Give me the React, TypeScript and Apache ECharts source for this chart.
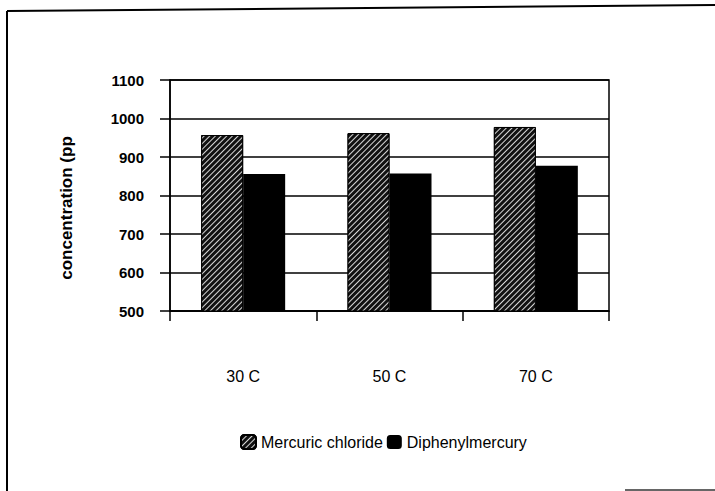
import React, { useEffect, useRef } from "react";
import * as echarts from "echarts";

const categories = ["30 C", "50 C", "70 C"];
const mercuricChloride = [957, 962, 978];
const diphenylmercury = [856, 857, 877];
const yTicks = { min: 500, max: 1100, interval: 100 };
const yAxisName = "concentration (pp";

export default function App() {
  const ref = useRef<HTMLDivElement>(null);
  useEffect(() => {
    const chart = echarts.init(ref.current!, undefined, { renderer: "svg" });
    const font = "'Liberation Sans', Arial, sans-serif";
    chart.setOption({
      animation: false,
      backgroundColor: "#fff",
      grid: {
        left: 170,
        top: 80,
        right: 106,
        bottom: 180,
        show: true,
        borderColor: "#000",
        borderWidth: 1.5,
      },
      legend: {
        left: 235,
        top: 429,
        itemWidth: 15,
        itemHeight: 14,
        itemGap: 4,
        textStyle: { fontFamily: font, fontSize: 16, color: "#000" },
        data: ["Mercuric chloride", "Diphenylmercury"],
      },
      xAxis: {
        type: "category",
        data: categories,
        axisLine: { lineStyle: { color: "#000", width: 1.5 } },
        axisTick: { show: true, length: 10, lineStyle: { color: "#000", width: 1.5 } },
        axisLabel: { margin: 57, fontFamily: font, fontSize: 16, color: "#000" },
        splitLine: { show: false },
      },
      yAxis: {
        type: "value",
        min: yTicks.min,
        max: yTicks.max,
        interval: yTicks.interval,
        axisLine: { show: true, lineStyle: { color: "#000", width: 1.5 } },
        axisTick: { show: true, length: 10, lineStyle: { color: "#000", width: 1.5 } },
        axisLabel: {
          margin: 26,
          fontFamily: font,
          fontSize: 15,
          fontWeight: "bold",
          color: "#000",
          formatter: (v: number) => String(v),
        },
        splitLine: { lineStyle: { color: "#000", width: 1.5 } },
      },
      graphic: [
        {
          type: "text",
          x: 66,
          y: 208,
          rotation: Math.PI / 2,
          style: {
            text: yAxisName,
            fontFamily: font,
            fontSize: 17,
            fontWeight: "bold",
            fill: "#000",
            align: "center",
            verticalAlign: "middle",
          },
        },
        { type: "line", shape: { x1: 7, y1: 11, x2: 715, y2: 5 }, style: { stroke: "#000", lineWidth: 2 } },
        { type: "line", shape: { x1: 7, y1: 11, x2: 7, y2: 491 }, style: { stroke: "#000", lineWidth: 2 } },
        { type: "line", shape: { x1: 625, y1: 490, x2: 715, y2: 490 }, style: { stroke: "#333", lineWidth: 1.5 } },
      ],
      series: [
        {
          name: "Mercuric chloride",
          type: "bar",
          data: mercuricChloride,
          barWidth: 42,
          barGap: "0%",
          itemStyle: {
            color: "#111",
            borderColor: "#000",
            borderWidth: 1,
            decal: {
              symbol: "rect",
              symbolSize: 1,
              color: "#d8d8d8",
              dashArrayX: [1, 0],
              dashArrayY: [1, 3],
              rotation: -Math.PI / 4,
            },
          },
        },
        {
          name: "Diphenylmercury",
          type: "bar",
          data: diphenylmercury,
          barWidth: 42,
          barGap: "0%",
          itemStyle: { color: "#000" },
        },
      ],
    });
    return () => chart.dispose();
  }, []);
  return <div ref={ref} style={{ width: 715, height: 491, position: "absolute", left: 0, top: 0 }} />;
}
